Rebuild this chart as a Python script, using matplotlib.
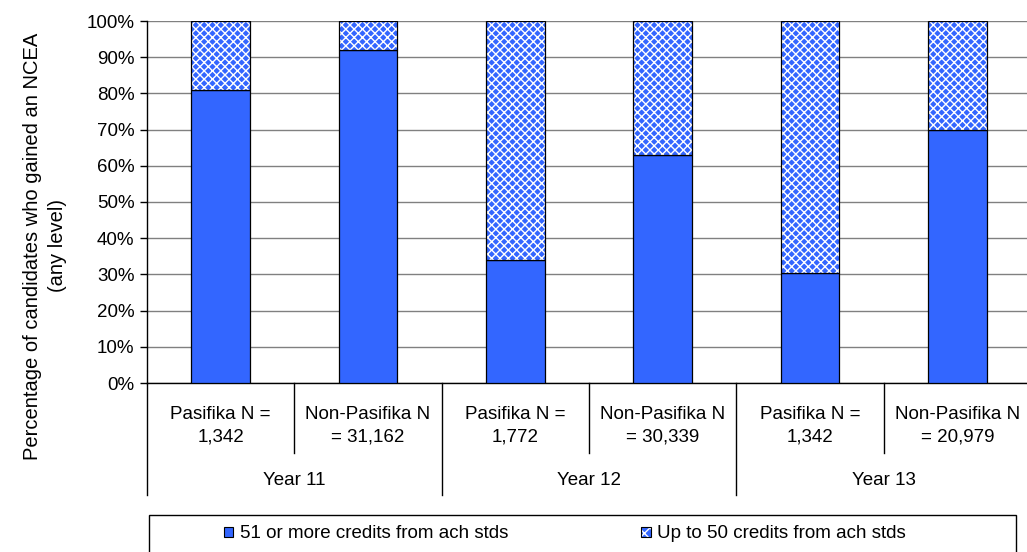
import matplotlib
matplotlib.use("Agg")
import matplotlib.pyplot as plt
from matplotlib.patches import Patch, Rectangle
from matplotlib.legend_handler import HandlerTuple
import matplotlib.transforms as mtransforms

plt.rcParams['font.family'] = ['Liberation Sans', 'DejaVu Sans']
plt.rcParams['font.size'] = 13.5
plt.rcParams['hatch.linewidth'] = 1.0

# datos
grupos = ['Pasifika N =\n1,342', 'Non-Pasifika N\n= 31,162',
          'Pasifika N =\n1,772', 'Non-Pasifika N\n= 30,339',
          'Pasifika N =\n1,342', 'Non-Pasifika N\n= 20,979']
anios = ['Year 11', 'Year 12', 'Year 13']
mas_51 = [81, 92, 34, 63, 30.5, 70]
hasta_50 = [19, 8, 66, 37, 69.5, 30]
serie_nombres = ['51 or more credits from ach stds', 'Up to 50 credits from ach stds']

azul = '#3366FF'

fig = plt.figure(figsize=(10.27, 5.52), dpi=100)
ax = fig.add_axes([147/1027, 169/552, 884/1027, 362/552])

x = list(range(len(grupos)))
ax.bar(x, mas_51, width=0.4, color=azul, edgecolor='black', linewidth=0.9, zorder=3)
# parte cuadriculada: relleno con trama blanca y luego el borde negro
ax.bar(x, hasta_50, bottom=mas_51, width=0.4, color=azul, edgecolor='white',
       hatch='xxxx', linewidth=0, zorder=3)
ax.bar(x, hasta_50, bottom=mas_51, width=0.4, fill=False, edgecolor='black',
       linewidth=0.9, zorder=4)

ax.set_xlim(-0.5, len(grupos) - 0.5)
ax.set_ylim(0, 100)
ax.set_yticks(range(0, 101, 10))
ax.set_yticklabels([f'{v}%' for v in range(0, 101, 10)])
ax.yaxis.grid(True, color='#808080', linewidth=1)
ax.set_axisbelow(True)
ax.set_xticks([])
for s in ['top', 'right']:
    ax.spines[s].set_visible(False)
ax.spines['left'].set_linewidth(1)
ax.spines['bottom'].set_linewidth(1)
ax.tick_params(axis='y', length=5, width=1, direction='out', pad=4)

# eje de categorias en dos niveles
trans = mtransforms.blended_transform_factory(ax.transData, ax.transAxes)
for i, g in enumerate(grupos):
    ax.text(i, -0.118, g, transform=trans, ha='center', va='center',
            linespacing=1.45, clip_on=False)
for j, a in enumerate(anios):
    ax.text(2 * j + 0.5, -0.268, a, transform=trans, ha='center', va='center',
            clip_on=False)
for k in range(len(grupos) + 1):
    xb = k - 0.5
    fondo = -0.309 if k % 2 == 0 else -0.193
    ax.plot([xb, xb], [0, fondo], transform=trans, color='black', linewidth=1,
            clip_on=False)

fig.text(45/1027, 1 - 246/552,
         'Percentage of candidates who gained an NCEA\n(any level)',
         rotation=90, ha='center', va='center', fontsize=14.5, linespacing=1.45)

# leyenda
fig.patches.append(Rectangle((149/1027, -0.02), 867/1027, 1 - 515/552 + 0.02,
                             transform=fig.transFigure, fill=False,
                             edgecolor='black', linewidth=1))
h1 = Patch(facecolor=azul, edgecolor='black', linewidth=0.8)
h2 = (Patch(facecolor=azul, edgecolor='white', hatch='xxx', linewidth=0),
      Patch(fill=False, edgecolor='black', linewidth=0.8))
fig.legend([h1, h2], serie_nombres, ncol=2, loc='center', frameon=False,
           bbox_to_anchor=(565/1027, 1 - 534/552), handlelength=0.5,
           handleheight=0.5, handletextpad=0.35, columnspacing=7.1,
           handler_map={tuple: HandlerTuple(ndivide=1, pad=0)})

fig.savefig('out.png', dpi=100)
